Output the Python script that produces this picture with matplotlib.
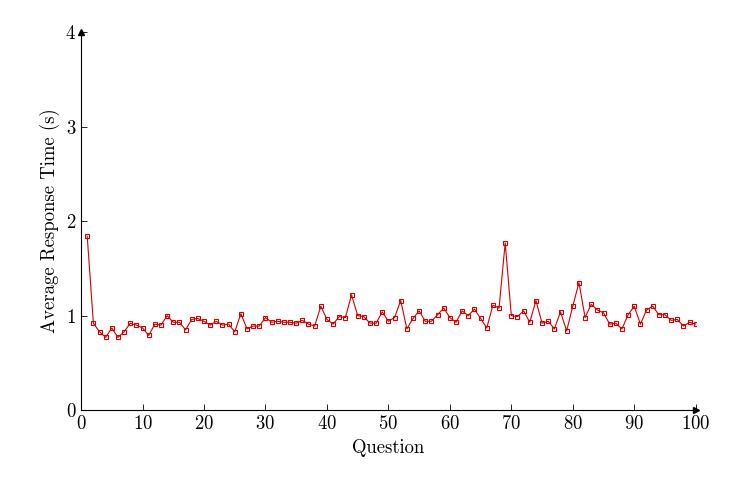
import matplotlib
matplotlib.use("Agg")
import matplotlib.pyplot as plt

questions = list(range(1, 101))
times = [1.84,0.92,0.83,0.77,0.87,0.77,0.83,0.92,0.90,0.87,
         0.79,0.91,0.90,1.00,0.93,0.93,0.85,0.96,0.97,0.94,
         0.90,0.94,0.90,0.91,0.83,1.02,0.86,0.89,0.89,0.98,
         0.93,0.94,0.93,0.93,0.92,0.95,0.91,0.89,1.10,0.96,
         0.91,0.99,0.98,1.22,1.00,0.99,0.92,0.92,1.04,0.94,
         0.98,1.16,0.86,0.97,1.05,0.94,0.94,1.01,1.08,0.98,
         0.93,1.05,1.00,1.07,0.97,0.87,1.11,1.08,1.77,1.00,
         0.99,1.05,0.93,1.16,0.92,0.94,0.86,1.04,0.84,1.10,
         1.35,0.98,1.12,1.06,1.03,0.91,0.92,0.86,1.01,1.10,
         0.91,1.06,1.10,1.01,1.01,0.95,0.96,0.89,0.93,0.91]
xticks = [0,10,20,30,40,50,60,70,80,90,100]
yticks = [0,1,2,3,4]

plt.rcParams['font.family'] = 'serif'
plt.rcParams['font.serif'] = ['cmr10', 'DejaVu Serif']
plt.rcParams['axes.formatter.use_mathtext'] = True
plt.rcParams['font.size'] = 13.5

fig = plt.figure(figsize=(7.37, 4.93), dpi=100)
ax = fig.add_axes([0.110, 0.168, 0.834, 0.767])
ax.plot(questions, times, color='#d40000', lw=0.8, marker='s', ms=3.5,
        mfc='none', mec='#d40000', mew=0.8)
ax.set_xlim(0, 100)
ax.set_ylim(0, 4)
ax.set_xticks(xticks)
ax.set_yticks(yticks)
ax.spines['top'].set_visible(False)
ax.spines['right'].set_visible(False)
ax.tick_params(direction='in', length=4, width=0.6)
for s in ['left', 'bottom']:
    ax.spines[s].set_linewidth(0.8)
ax.plot(1, 0, '>k', ms=4.5, transform=ax.transAxes, clip_on=False, zorder=5)
ax.plot(0, 1, '^k', ms=4.5, transform=ax.transAxes, clip_on=False, zorder=5)
ax.set_xlabel('Question')
ax.set_ylabel('Average Response Time (s)')
fig.savefig('out.png', dpi=100)
